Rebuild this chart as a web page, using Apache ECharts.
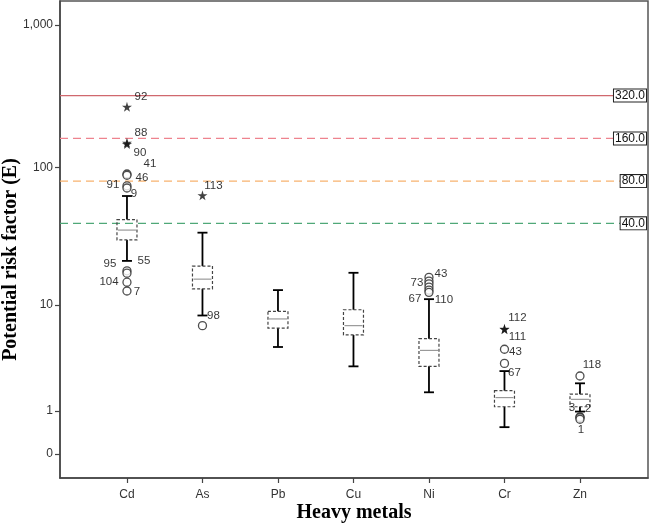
<!DOCTYPE html>
<html>
<head>
<meta charset="utf-8">
<script src="https://cdn.jsdelivr.net/npm/echarts@6/dist/echarts.min.js"></script>
<style>html,body{margin:0;padding:0;background:#fff}#c{width:649px;height:529px}</style>
</head>
<body>
<div id="c"></div>
<script>
// ---------- DATA ----------
const categories = ['Cd', 'As', 'Pb', 'Cu', 'Ni', 'Cr', 'Zn'];
const whiskerLow  = [21.4, 8.3, 4.6, 3.1, 1.7, 0.54, 0.98];
const q1          = [30.4, 13.3, 6.6, 5.8, 3.1, 1.14, 1.14];
const median      = [35.8, 15.7, 7.8, 6.9, 4.3, 1.48, 1.41];
const q3          = [42.6, 19.6, 8.95, 9.2, 5.4, 1.77, 1.62];
const whiskerHigh = [62.7, 34.3, 13.0, 17.5, 11.1, 2.8, 2.12];

const outlierCategory = [0, 0, 0, 0, 0, 0, 0, 0, 0, 0, 0, 1, 1, 4, 4, 4, 4, 4, 4, 5, 5, 5, 5, 6, 6, 6, 6];
const outlierValue    = [267, 149, 146, 89.8, 88, 74, 71.5, 18.1, 17.4, 14.9, 12.8, 63.4, 6.9, 16.2, 15.2, 14.5, 13.7, 13.0, 12.5, 6.5, 6.45, 4.4, 3.3, 2.51, 0.82, 0.80, 0.75];
const outlierId       = ['92', '88', '90', '41', '46', '91', '9', '55', '95', '104', '7', '113', '98', '43', '73', '', '', '67', '110', '112', '111', '43', '67', '118', '3', '2', '1'];
const outlierKind     = ['*', '*', '*', 'o', 'o', 'o', 'o', 'o', 'o', 'o', 'o', '*', 'o', 'o', 'o', 'o', 'o', 'o', 'o', '*', '*', 'o', 'o', 'o', 'o', 'o', 'o'];

const refValues = [320, 160, 80, 40];
const refLabels = ['320.0', '160.0', '80.0', '40.0'];

const yTickValues = [0, 1, 10, 100, 1000];

// ---------- STYLE ----------
const labelOffset = [[14,-10],[14,-10],[13,9],[23,-10],[15,3],[-14,-1],[7,6],[17,-10],[-17,-9],[-18,0],[10,1],
  [11,-10],[11,-10],[12,-3],[-12,2],[0,0],[0,0],[-14,9],[15,7],[13,-11],[13,8],[11,3],[10,9],[12,-11],[-8,-9],[8,-9],[1,11]];
const refColors = ['#d0686e', '#ee838e', '#f7b26f', '#4fa878'];
const refDash = [null, [8, 5], [8, 5], [8, 5]];

// scale: log10(v + 1)
const f = v => Math.log10(v + 1);
const fmt = t => Math.round(Math.pow(10, t) - 1).toLocaleString('en-US');

const SANS = 'Arial, "Liberation Sans", sans-serif';
const SERIF = '"Times New Roman", "Liberation Serif", serif';

const boxData = categories.map((c, i) => [i, f(whiskerLow[i]), f(q1[i]), f(median[i]), f(q3[i]), f(whiskerHigh[i])]);

function mkOutliers(kind) {
  const out = [];
  for (let i = 0; i < outlierValue.length; i++) {
    if (outlierKind[i] !== kind) continue;
    out.push({
      value: [outlierCategory[i], f(outlierValue[i])],
      label: {
        show: outlierId[i] !== '',
        formatter: outlierId[i],
        position: 'inside',
        offset: labelOffset[i]
      }
    });
  }
  return out;
}

const starPath = 'path://M50,0 L61,35 L98,35 L68,57 L79,91 L50,70 L21,91 L32,57 L2,35 L39,35 Z';

const chart = echarts.init(document.getElementById('c'));
chart.setOption({
  animation: false,
  backgroundColor: '#fff',
  grid: { left: 60, right: 1, top: 1, bottom: 51, show: true, borderColor: '#555', borderWidth: 1.5, containLabel: false, outerBoundsMode: 'none' },
  xAxis: {
    type: 'value', min: -0.887, max: 6.901,
    name: 'Heavy metals', nameLocation: 'middle', nameGap: 25, nameMoveOverlap: false,
    nameTextStyle: { fontFamily: SERIF, fontWeight: 'bold', fontSize: 20, color: '#000' },
    axisLine: { show: true, onZero: false, lineStyle: { color: '#444', width: 1.5 } },
    axisTick: { show: true, length: 5, customValues: [0, 1, 2, 3, 4, 5, 6], lineStyle: { color: '#444', width: 1.2 } },
    axisLabel: { customValues: [0, 1, 2, 3, 4, 5, 6], formatter: v => categories[Math.round(v)], color: '#333', fontSize: 12, fontFamily: SANS, margin: 11 },
    splitLine: { show: false }
  },
  yAxis: {
    type: 'value', min: -0.168, max: 3.168,
    name: 'Potential risk factor (E)', nameLocation: 'middle', nameGap: 39, nameRotate: 90, nameMoveOverlap: false,
    nameTextStyle: { fontFamily: SERIF, fontWeight: 'bold', fontSize: 20, color: '#000', padding: [0, 40, 0, 0] },
    axisLine: { show: true, onZero: false, lineStyle: { color: '#444', width: 1.5 } },
    axisTick: { show: true, length: 5, customValues: yTickValues.map(f), lineStyle: { color: '#444', width: 1.2 } },
    axisLabel: { customValues: yTickValues.map(f), formatter: v => fmt(v), color: '#333', fontSize: 12, fontFamily: SANS, margin: 7 },
    splitLine: { show: false }
  },
  series: [
    {
      type: 'custom', z: 1,
      data: refValues.map((v, i) => [i, f(v)]),
      renderItem: function (params, api) {
        const i = api.value(0);
        const cs = params.coordSys;
        const y = api.coord([0, api.value(1)])[1];
        const left = cs.x, right = cs.x + cs.width;
        return {
          type: 'group',
          children: [
            { type: 'line', shape: { x1: left, y1: y, x2: right - 20, y2: y },
              style: { stroke: refColors[i], lineWidth: 1.3, lineDash: refDash[i] } },
            { type: 'text', z2: 10,
              style: { x: right - 2, y: y, text: refLabels[i], align: 'right', verticalAlign: 'middle',
                fill: '#111', font: '12px ' + SANS, backgroundColor: '#fff', borderColor: '#222', borderWidth: 1, padding: [0, 1, 0, 1] } }
          ]
        };
      }
    },
    {
      type: 'custom', z: 3,
      data: boxData,
      renderItem: function (params, api) {
        const x = api.coord([api.value(0), 0])[0];
        const yLo = api.coord([0, api.value(1)])[1];
        const yQ1 = api.coord([0, api.value(2)])[1];
        const yMed = api.coord([0, api.value(3)])[1];
        const yQ3 = api.coord([0, api.value(4)])[1];
        const yHi = api.coord([0, api.value(5)])[1];
        const hw = 10, cw = 5;
        const ws = { stroke: '#000', lineWidth: 1.8 };
        return {
          type: 'group',
          children: [
            { type: 'line', shape: { x1: x, y1: yQ3, x2: x, y2: yHi }, style: ws },
            { type: 'line', shape: { x1: x - cw, y1: yHi, x2: x + cw, y2: yHi }, style: ws },
            { type: 'line', shape: { x1: x, y1: yQ1, x2: x, y2: yLo }, style: ws },
            { type: 'line', shape: { x1: x - cw, y1: yLo, x2: x + cw, y2: yLo }, style: ws },
            { type: 'rect', shape: { x: x - hw, y: yQ3, width: 2 * hw, height: yQ1 - yQ3 },
              style: { fill: 'rgba(255,255,255,0)', stroke: '#444', lineWidth: 1.2, lineDash: [3, 2] } },
            { type: 'line', shape: { x1: x - hw + 1, y1: yMed, x2: x + hw - 1, y2: yMed }, style: { stroke: '#999', lineWidth: 1.2 } }
          ]
        };
      }
    },
    {
      type: 'scatter', z: 4,
      symbol: 'circle', symbolSize: 8,
      itemStyle: { color: '#fff', borderColor: '#222', borderWidth: 1.3 },
      label: { color: '#000', fontSize: 11.5, fontFamily: SANS },
      data: mkOutliers('o')
    },
    {
      type: 'scatter', z: 4,
      symbol: starPath, symbolSize: 10,
      itemStyle: { color: '#111' },
      label: { color: '#000', fontSize: 11.5, fontFamily: SANS },
      data: mkOutliers('*')
    }
  ]
});
</script>
</body>
</html>
